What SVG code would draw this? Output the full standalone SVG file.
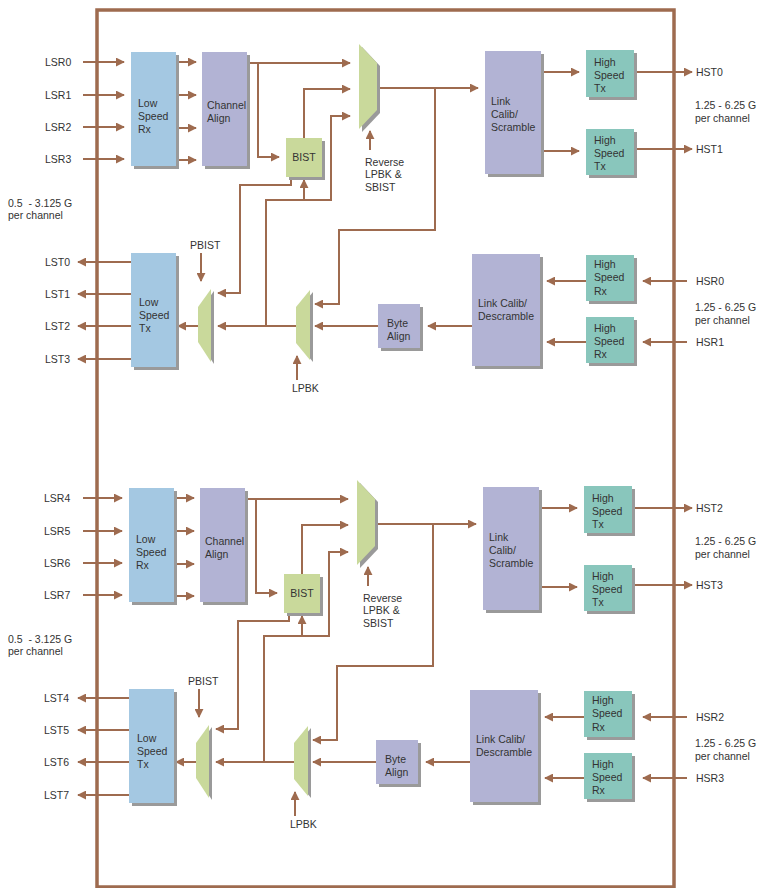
<svg xmlns="http://www.w3.org/2000/svg" width="758" height="888" viewBox="0 0 758 888">
<style>
.t{font-family:"Liberation Sans",Arial,sans-serif;font-size:10.5px;fill:#333}
.pre{white-space:pre}
.a{fill:none;stroke:#9e6b4f;stroke-width:2;marker-end:url(#ah)}
.sh{fill:#9a9a9a}
.blue{fill:#a4c8e2}
.lav{fill:#b2b3d4}
.grn{fill:#c9d99b}
.teal{fill:#89c6bc}
.frame{fill:none;stroke:#9e6b4f;stroke-width:3.5}
</style>
<defs>
<marker id="ah" viewBox="0 0 10 10" refX="9" refY="5" markerWidth="9" markerHeight="9" markerUnits="userSpaceOnUse" orient="auto">
<path d="M0,0 L10,5 L0,10 z" fill="#9e6b4f"/>
</marker>
</defs>
<rect width="758" height="888" fill="#fff"/>
<g id="frame"><rect class="frame" x="97" y="10" width="577" height="877"/></g>

<g id="top">
<g id="connectors-top">
<path class="a" d="M83,62H124"/><path class="a" d="M83,95H124"/><path class="a" d="M83,127H124"/><path class="a" d="M83,159H124"/>
<path class="a" d="M176,62H196"/><path class="a" d="M176,95H196"/><path class="a" d="M176,128H196"/><path class="a" d="M176,160H196"/>
<path class="a" d="M247,63H350"/>
<path class="a" d="M258,63V157H279"/>
<path class="a" d="M304,138V89H350"/>
<path class="a" d="M266,326V200H331V116H350"/>
<path class="a" d="M304,200V180"/>
<path class="a" d="M291,177V185H240V293H218"/>
<path class="a" d="M370,150V131"/>
<path class="a" d="M377,88H478"/>
<path class="a" d="M435,88V230H339V304H315"/>
<path class="a" d="M541,72H579"/><path class="a" d="M541,151H579"/>
<path class="a" d="M634,72H692"/><path class="a" d="M634,149H692"/>
<path class="a" d="M201,253V281"/>
<path class="a" d="M131,262H78"/><path class="a" d="M131,294H78"/><path class="a" d="M131,326H78"/><path class="a" d="M131,359H78"/>
<path class="a" d="M198,326H178"/>
<path class="a" d="M296,326H218"/>
<path class="a" d="M378,326H315"/>
<path class="a" d="M297,380V356"/>
<path class="a" d="M472,326H428"/>
<path class="a" d="M586,281H547"/><path class="a" d="M586,342H547"/>
<path class="a" d="M687,281H643"/><path class="a" d="M687,342H643"/>
</g>
<g id="labels-top">
<text class="t" x="45" y="66">LSR0</text><text class="t" x="45" y="99">LSR1</text><text class="t" x="45" y="131">LSR2</text><text class="t" x="45" y="163">LSR3</text>
<text class="t pre" x="8" y="207">0.5  - 3.125 G</text><text class="t" x="8" y="219">per channel</text>
<text class="t" x="45" y="266">LST0</text><text class="t" x="45" y="298">LST1</text><text class="t" x="45" y="330">LST2</text><text class="t" x="45" y="363">LST3</text>
<text class="t" x="190" y="249">PBIST</text>
<text class="t" x="292" y="392">LPBK</text>
<text class="t" x="365" y="166">Reverse</text><text class="t" x="365" y="178">LPBK &amp;</text><text class="t" x="365" y="191">SBIST</text>
<text class="t" x="696" y="76">HST0</text><text class="t" x="696" y="153">HST1</text>
<text class="t" x="695" y="109">1.25 - 6.25 G</text><text class="t" x="695" y="122">per channel</text>
<text class="t" x="696" y="285">HSR0</text><text class="t" x="696" y="346">HSR1</text>
<text class="t" x="695" y="311">1.25 - 6.25 G</text><text class="t" x="695" y="324">per channel</text>
</g>
<g id="lsrx0"><rect class="sh" x="134" y="55" width="45" height="114"/><rect class="blue" x="131" y="52" width="45" height="114"/>
<text class="t" x="138" y="107">Low</text><text class="t" x="138" y="120">Speed</text><text class="t" x="138" y="133">Rx</text></g>
<g id="chalign0"><rect class="sh" x="205" y="55" width="45" height="114"/><rect class="lav" x="202" y="52" width="45" height="114"/>
<text class="t" x="207" y="109">Channel</text><text class="t" x="207" y="122">Align</text></g>
<g id="bist0"><rect class="sh" x="289" y="141" width="36" height="39"/><rect class="grn" x="286" y="138" width="36" height="39"/>
<text class="t" x="304" y="161" text-anchor="middle">BIST</text></g>
<g id="revmux0"><polygon class="sh" points="362,47 380,66 380,113 362,132"/><polygon class="grn" points="359,44 377,63 377,110 359,129"/></g>
<g id="linkscr0"><rect class="sh" x="488" y="54" width="56" height="123"/><rect class="lav" x="485" y="51" width="56" height="123"/>
<text class="t" x="491" y="105">Link</text><text class="t" x="491" y="118">Calib/</text><text class="t" x="491" y="131">Scramble</text></g>
<g id="hstx0"><rect class="sh" x="589" y="53" width="48" height="47"/><rect class="teal" x="586" y="50" width="48" height="47"/>
<text class="t" x="594" y="66">High</text><text class="t" x="594" y="79">Speed</text><text class="t" x="594" y="92">Tx</text></g>
<g id="hstx1"><rect class="sh" x="589" y="132" width="48" height="46"/><rect class="teal" x="586" y="129" width="48" height="46"/>
<text class="t" x="594" y="144">High</text><text class="t" x="594" y="157">Speed</text><text class="t" x="594" y="170">Tx</text></g>
<g id="lstx0"><rect class="sh" x="134" y="256" width="45" height="114"/><rect class="blue" x="131" y="253" width="45" height="114"/>
<text class="t" x="139" y="306">Low</text><text class="t" x="139" y="319">Speed</text><text class="t" x="139" y="332">Tx</text></g>
<g id="pbistmux0"><polygon class="sh" points="201,309 214,291 214,364 201,344"/><polygon class="grn" points="198,307 211,289 211,362 198,342"/></g>
<g id="lpbkmux0"><polygon class="sh" points="299,309 313,292 313,362 299,345"/><polygon class="grn" points="296,307 310,290 310,360 296,343"/></g>
<g id="bytealign0"><rect class="sh" x="381" y="307" width="42" height="44"/><rect class="lav" x="378" y="304" width="42" height="44"/>
<text class="t" x="387" y="327">Byte</text><text class="t" x="387" y="340">Align</text></g>
<g id="linkdes0"><rect class="sh" x="475" y="257" width="68" height="112"/><rect class="lav" x="472" y="254" width="68" height="112"/>
<text class="t" x="478" y="307">Link Calib/</text><text class="t" x="478" y="320">Descramble</text></g>
<g id="hsrx0"><rect class="sh" x="589" y="258" width="48" height="46"/><rect class="teal" x="586" y="255" width="48" height="46"/>
<text class="t" x="594" y="268">High</text><text class="t" x="594" y="281">Speed</text><text class="t" x="594" y="295">Rx</text></g>
<g id="hsrx1"><rect class="sh" x="589" y="320" width="48" height="46"/><rect class="teal" x="586" y="317" width="48" height="46"/>
<text class="t" x="594" y="332">High</text><text class="t" x="594" y="345">Speed</text><text class="t" x="594" y="358">Rx</text></g>
</g>

<g id="bottom" transform="translate(-2,436)">
<g id="connectors-bottom">
<path class="a" d="M85,62H124"/><path class="a" d="M85,95H124"/><path class="a" d="M85,127H124"/><path class="a" d="M85,159H124"/>
<path class="a" d="M176,62H196"/><path class="a" d="M176,95H196"/><path class="a" d="M176,128H196"/><path class="a" d="M176,160H196"/>
<path class="a" d="M247,63H350"/>
<path class="a" d="M258,63V157H279"/>
<path class="a" d="M304,138V89H350"/>
<path class="a" d="M266,326V200H331V116H350"/>
<path class="a" d="M304,200V180"/>
<path class="a" d="M291,177V185H240V293H218"/>
<path class="a" d="M370,150V131"/>
<path class="a" d="M377,88H478"/>
<path class="a" d="M435,88V230H339V304H315"/>
<path class="a" d="M541,72H579"/><path class="a" d="M541,151H579"/>
<path class="a" d="M634,72H694"/><path class="a" d="M634,149H694"/>
<path class="a" d="M201,253V281"/>
<path class="a" d="M131,262H80"/><path class="a" d="M131,294H80"/><path class="a" d="M131,326H80"/><path class="a" d="M131,359H80"/>
<path class="a" d="M198,326H178"/>
<path class="a" d="M296,326H218"/>
<path class="a" d="M378,326H315"/>
<path class="a" d="M297,380V356"/>
<path class="a" d="M472,326H428"/>
<path class="a" d="M586,281H547"/><path class="a" d="M586,342H547"/>
<path class="a" d="M689,281H645"/><path class="a" d="M689,342H645"/>
</g>
<g id="labels-bottom">
<text class="t" x="46" y="66">LSR4</text><text class="t" x="46" y="99">LSR5</text><text class="t" x="46" y="131">LSR6</text><text class="t" x="46" y="163">LSR7</text>
<text class="t pre" x="10" y="207">0.5  - 3.125 G</text><text class="t" x="10" y="219">per channel</text>
<text class="t" x="46" y="266">LST4</text><text class="t" x="46" y="298">LST5</text><text class="t" x="46" y="330">LST6</text><text class="t" x="46" y="363">LST7</text>
<text class="t" x="190" y="249">PBIST</text>
<text class="t" x="292" y="392">LPBK</text>
<text class="t" x="365" y="166">Reverse</text><text class="t" x="365" y="178">LPBK &amp;</text><text class="t" x="365" y="191">SBIST</text>
<text class="t" x="698" y="76">HST2</text><text class="t" x="698" y="153">HST3</text>
<text class="t" x="697" y="109">1.25 - 6.25 G</text><text class="t" x="697" y="122">per channel</text>
<text class="t" x="698" y="285">HSR2</text><text class="t" x="698" y="346">HSR3</text>
<text class="t" x="697" y="311">1.25 - 6.25 G</text><text class="t" x="697" y="324">per channel</text>
</g>
<g id="lsrx1"><rect class="sh" x="134" y="55" width="45" height="114"/><rect class="blue" x="131" y="52" width="45" height="114"/>
<text class="t" x="138" y="107">Low</text><text class="t" x="138" y="120">Speed</text><text class="t" x="138" y="133">Rx</text></g>
<g id="chalign1"><rect class="sh" x="205" y="55" width="45" height="114"/><rect class="lav" x="202" y="52" width="45" height="114"/>
<text class="t" x="207" y="109">Channel</text><text class="t" x="207" y="122">Align</text></g>
<g id="bist1"><rect class="sh" x="289" y="141" width="36" height="39"/><rect class="grn" x="286" y="138" width="36" height="39"/>
<text class="t" x="304" y="161" text-anchor="middle">BIST</text></g>
<g id="revmux1"><polygon class="sh" points="362,47 380,66 380,113 362,132"/><polygon class="grn" points="359,44 377,63 377,110 359,129"/></g>
<g id="linkscr1"><rect class="sh" x="488" y="54" width="56" height="123"/><rect class="lav" x="485" y="51" width="56" height="123"/>
<text class="t" x="491" y="105">Link</text><text class="t" x="491" y="118">Calib/</text><text class="t" x="491" y="131">Scramble</text></g>
<g id="hstx2"><rect class="sh" x="589" y="53" width="48" height="47"/><rect class="teal" x="586" y="50" width="48" height="47"/>
<text class="t" x="594" y="66">High</text><text class="t" x="594" y="79">Speed</text><text class="t" x="594" y="92">Tx</text></g>
<g id="hstx3"><rect class="sh" x="589" y="132" width="48" height="46"/><rect class="teal" x="586" y="129" width="48" height="46"/>
<text class="t" x="594" y="144">High</text><text class="t" x="594" y="157">Speed</text><text class="t" x="594" y="170">Tx</text></g>
<g id="lstx1"><rect class="sh" x="134" y="256" width="45" height="114"/><rect class="blue" x="131" y="253" width="45" height="114"/>
<text class="t" x="139" y="306">Low</text><text class="t" x="139" y="319">Speed</text><text class="t" x="139" y="332">Tx</text></g>
<g id="pbistmux1"><polygon class="sh" points="201,309 214,291 214,364 201,344"/><polygon class="grn" points="198,307 211,289 211,362 198,342"/></g>
<g id="lpbkmux1"><polygon class="sh" points="299,309 313,292 313,362 299,345"/><polygon class="grn" points="296,307 310,290 310,360 296,343"/></g>
<g id="bytealign1"><rect class="sh" x="381" y="307" width="42" height="44"/><rect class="lav" x="378" y="304" width="42" height="44"/>
<text class="t" x="387" y="327">Byte</text><text class="t" x="387" y="340">Align</text></g>
<g id="linkdes1"><rect class="sh" x="475" y="257" width="68" height="112"/><rect class="lav" x="472" y="254" width="68" height="112"/>
<text class="t" x="478" y="307">Link Calib/</text><text class="t" x="478" y="320">Descramble</text></g>
<g id="hsrx2"><rect class="sh" x="589" y="258" width="48" height="46"/><rect class="teal" x="586" y="255" width="48" height="46"/>
<text class="t" x="594" y="268">High</text><text class="t" x="594" y="281">Speed</text><text class="t" x="594" y="295">Rx</text></g>
<g id="hsrx3"><rect class="sh" x="589" y="320" width="48" height="46"/><rect class="teal" x="586" y="317" width="48" height="46"/>
<text class="t" x="594" y="332">High</text><text class="t" x="594" y="345">Speed</text><text class="t" x="594" y="358">Rx</text></g>
</g>
</svg>
